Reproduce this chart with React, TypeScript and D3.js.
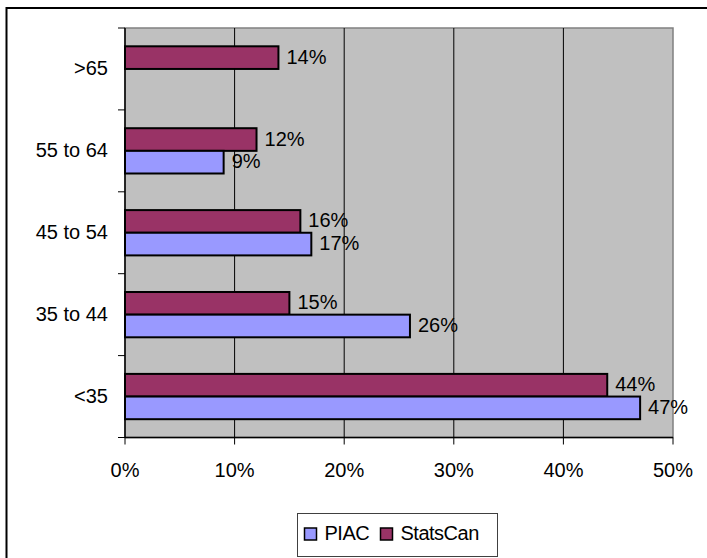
import React from 'react';
import * as d3 from 'd3';

const categories = ['>65', '55 to 64', '45 to 54', '35 to 44', '<35'];
const seriesNames = ['StatsCan', 'PIAC'];
const statsCanValues = [14, 12, 16, 15, 44];
const piacValues: (number | null)[] = [null, 9, 17, 26, 47];
const xTicks = [0, 10, 20, 30, 40, 50];

const colors: Record<string, string> = { PIAC: '#9999FF', StatsCan: '#993366' };
const font = '"Liberation Sans", Arial, sans-serif';

export default function App() {
  const plot = { left: 125, right: 673, top: 28, bottom: 437.5 };

  const x = d3.scaleLinear().domain([0, 50]).range([plot.left, plot.right]);
  const pad = 0.447;
  const y = d3.scaleBand<string>()
    .domain(categories)
    .range([plot.top, plot.bottom])
    .paddingInner(pad)
    .paddingOuter(pad / 2);
  const ySub = d3.scaleBand<string>().domain(seriesNames).range([0, y.bandwidth()]);

  const step = y.step();
  const boundaries = categories.map(c => (y(c) as number) - (step * pad) / 2);
  boundaries.push(plot.bottom);

  const rows = categories.map((c, i) => ({
    cat: c,
    vals: [
      { name: 'StatsCan', v: statsCanValues[i] as number | null },
      { name: 'PIAC', v: piacValues[i] },
    ],
  }));

  return (
    <svg width={707} height={558} style={{ position: 'fixed', left: 0, top: 0, background: '#fff' }}
      fontFamily={font}>
      {/* outer chart border, runs off the picture */}
      <rect x={6.5} y={8} width={720} height={580} fill="#fff" stroke="#000" strokeWidth={2} />

      {/* plot area */}
      <rect x={plot.left} y={plot.top} width={plot.right - plot.left} height={plot.bottom - plot.top}
        fill="#C0C0C0" stroke="#808080" strokeWidth={1.5} />

      {xTicks.slice(1, -1).map(t => (
        <line key={t} x1={x(t)} x2={x(t)} y1={plot.top} y2={plot.bottom} stroke="#000" strokeWidth={1} />
      ))}

      {/* bars */}
      {rows.map(r => (
        <g key={r.cat} transform={`translate(0,${y(r.cat)})`}>
          {r.vals.filter(d => d.v != null).map(d => (
            <g key={d.name}>
              <rect x={x(0)} y={ySub(d.name)} width={x(d.v as number) - x(0)} height={ySub.bandwidth()}
                fill={colors[d.name]} stroke="#000" strokeWidth={2} />
              <text x={x(d.v as number) + 8} y={(ySub(d.name) as number) + ySub.bandwidth() / 2 + 6}
                fontSize={20} fill="#000">{d.v}%</text>
            </g>
          ))}
        </g>
      ))}

      {/* axes */}
      <line x1={plot.left} x2={plot.left} y1={plot.top} y2={plot.bottom} stroke="#000" strokeWidth={1.5} />
      <line x1={plot.left} x2={plot.right} y1={plot.bottom} y2={plot.bottom} stroke="#000" strokeWidth={1.5} />
      {boundaries.map((b, i) => (
        <line key={i} x1={plot.left - 7} x2={plot.left} y1={b} y2={b} stroke="#000" strokeWidth={1} />
      ))}
      {xTicks.map(t => (
        <g key={t}>
          <line x1={x(t)} x2={x(t)} y1={plot.bottom} y2={plot.bottom + 7} stroke="#000" strokeWidth={1} />
          <text x={x(t)} y={477} textAnchor="middle" fontSize={20} fill="#000">{t}%</text>
        </g>
      ))}
      {categories.map(c => (
        <text key={c} x={108} y={(y(c) as number) + y.bandwidth() / 2 + 6} textAnchor="end"
          fontSize={20} fill="#000">{c}</text>
      ))}

      {/* legend */}
      <rect x={297.5} y={513.5} width={200} height={43} fill="#fff" stroke="#404040" strokeWidth={1} />
      {['PIAC', 'StatsCan'].map((n, i) => {
        const lx = i === 0 ? 304.5 : 380.5;
        return (
          <g key={n}>
            <rect x={lx} y={528} width={12} height={12} fill={colors[n]} stroke="#000" strokeWidth={1.5} />
            <text x={lx + 20} y={540} fontSize={20} fill="#000" letterSpacing={-0.5}>{n}</text>
          </g>
        );
      })}
    </svg>
  );
}
